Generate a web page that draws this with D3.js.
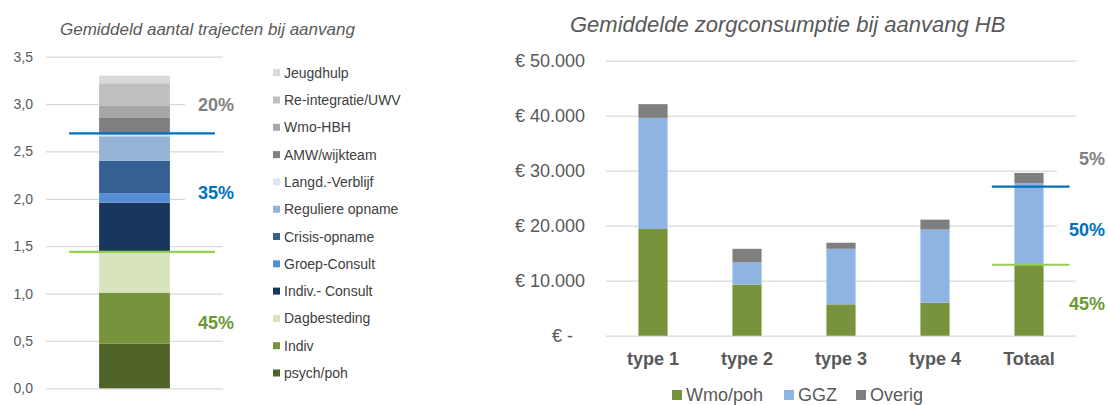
<!DOCTYPE html>
<html>
<head>
<meta charset="utf-8">
<script src="https://cdn.jsdelivr.net/npm/d3@7"></script>
<style>
  body { margin: 0; background: #fff; }
  text { font-family: "Liberation Sans", Arial, sans-serif; }
</style>
</head>
<body>
<div id="chart"></div>
<script>
// Left chart: average number of trajectories (stack bottom -> top)
const trajectCats = ["psych/poh", "Indiv", "Dagbesteding", "Indiv.- Consult", "Groep-Consult",
  "Crisis-opname", "Reguliere opname", "Langd.-Verblijf", "AMW/wijkteam", "Wmo-HBH",
  "Re-integratie/UWV", "Jeugdhulp"];
const trajectValues = [0.47, 0.54, 0.43, 0.52, 0.10, 0.34, 0.26, 0.02, 0.18, 0.12, 0.24, 0.08];
const trajectColors = ["#4f6228", "#77933c", "#d7e4bd", "#17375e", "#558ed5", "#376092",
  "#95b3d7", "#dce6f2", "#7f7f7f", "#a6a6a6", "#bfbfbf", "#d9d9d9"];
const leftTicks = [0, 0.5, 1, 1.5, 2, 2.5, 3, 3.5];
const leftSplits = [1.44, 2.69];            // green / blue divider
const leftShares = ["45%", "35%", "20%"];
const leftShareAt = [0.69, 2.07, 3.0];

// Right chart: average care consumption (euro)
const types = ["type 1", "type 2", "type 3", "type 4", "Totaal"];
const wmo = [19400, 9300, 5700, 6000, 12900];
const ggz = [20200, 4000, 10100, 13300, 14800];
const overig = [2500, 2500, 1100, 1800, 1900];
const seriesNames = ["Wmo/poh", "GGZ", "Overig"];
const seriesColors = ["#77933c", "#8eb4e3", "#7f7f7f"];
const rightTicks = [0, 10000, 20000, 30000, 40000, 50000];
const rightSplits = [12900, 27100];
const rightShares = ["45%", "50%", "5%"];
const rightShareAt = [5800, 19400, 32300];

const shareColors = ["#6a9a32", "#0070c0", "#808080"];
const lineColors = ["#92d050", "#0070c0"];

const W = 1108, H = 405;
const svg = d3.select("#chart").append("svg").attr("width", W).attr("height", H);

// ---------- left chart ----------
const gl = svg.append("g");
const yL = d3.scaleLinear().domain([0, 3.5]).range([388.3, 56.7]);
const xL = d3.scaleBand().domain(["aanvang"]).range([46, 223]).paddingInner(0.6).paddingOuter(0.3);

gl.append("text").attr("x", 60).attr("y", 35)
  .attr("font-size", 17).attr("font-style", "italic").attr("fill", "#595959")
  .text("Gemiddeld aantal trajecten bij aanvang");

const axL = gl.append("g").attr("transform", "translate(46,0)")
  .call(d3.axisLeft(yL).tickValues(leftTicks).tickSizeInner(-177).tickSizeOuter(0).tickPadding(13)
    .tickFormat(d => d3.format(".1f")(d).replace(".", ",")));
axL.select(".domain").remove();
axL.selectAll("line").attr("stroke", "#d9d9d9").attr("stroke-width", 1.3);
axL.selectAll("text").attr("font-size", 14).attr("fill", "#595959").attr("font-family", "Liberation Sans, Arial");

const rowL = { cat: "aanvang" };
trajectCats.forEach((c, i) => rowL[c] = trajectValues[i]);
const stackL = d3.stack().keys(trajectCats)([rowL]);

gl.append("g").selectAll("rect").data(stackL).join("rect")
  .attr("x", xL("aanvang"))
  .attr("width", xL.bandwidth())
  .attr("y", d => yL(d[0][1]))
  .attr("height", d => yL(d[0][0]) - yL(d[0][1]))
  .attr("fill", (d, i) => trajectColors[i]);

// white label boxes (cover gridlines like the original text boxes)
gl.append("g").selectAll("rect").data(leftShareAt).join("rect")
  .attr("x", 185).attr("width", 55)
  .attr("y", d => yL(d) - 18).attr("height", 34)
  .attr("fill", "#fff");

gl.append("g").selectAll("line").data(leftSplits).join("line")
  .attr("x1", xL("aanvang") - 30).attr("x2", xL("aanvang") + xL.bandwidth() + 45)
  .attr("y1", d => yL(d)).attr("y2", d => yL(d))
  .attr("stroke", (d, i) => lineColors[i]).attr("stroke-width", 2.2);

gl.append("g").selectAll("text").data(leftShares).join("text")
  .attr("x", 198).attr("y", (d, i) => yL(leftShareAt[i]) + 6.5)
  .attr("font-size", 18).attr("font-weight", "bold")
  .attr("fill", (d, i) => shareColors[i])
  .text(d => d);

// legend (top = last category)
const legL = gl.append("g").selectAll("g").data(trajectCats.slice().reverse()).join("g")
  .attr("transform", (d, i) => `translate(273,${72.7 + i * 27.3})`);
legL.append("rect").attr("x", 0).attr("y", -3.5).attr("width", 7).attr("height", 7)
  .attr("fill", d => trajectColors[trajectCats.indexOf(d)]);
legL.append("text").attr("x", 11).attr("y", 5).attr("font-size", 14).attr("fill", "#404040")
  .text(d => d);

// ---------- right chart ----------
const gr = svg.append("g");
const yR = d3.scaleLinear().domain([0, 50000]).range([335.7, 60.7]);
const xR = d3.scaleBand().domain(types).range([606, 1076]).paddingInner(0.69).paddingOuter(0.345);

gr.append("text").attr("x", 570).attr("y", 32)
  .attr("font-size", 22).attr("font-style", "italic").attr("fill", "#595959")
  .text("Gemiddelde zorgconsumptie bij aanvang HB");

const euro = d => d === 0 ? "€ -" : "€ " + d3.format(",")(d).replace(/,/g, ".");
const axR = gr.append("g").attr("transform", "translate(606,0)")
  .call(d3.axisLeft(yR).tickValues(rightTicks).tickSizeInner(-470).tickSizeOuter(0).tickPadding(21)
    .tickFormat(euro));
axR.select(".domain").remove();
axR.selectAll("line").attr("stroke", "#d9d9d9").attr("stroke-width", 1.3);
axR.selectAll("text").attr("font-size", 18).attr("fill", "#595959").attr("font-family", "Liberation Sans, Arial")
  .attr("dx", d => d === 0 ? -12 : 0);

const rowsR = types.map((t, i) => ({ type: t, "Wmo/poh": wmo[i], "GGZ": ggz[i], "Overig": overig[i] }));
const stackR = d3.stack().keys(seriesNames)(rowsR);

gr.append("g").selectAll("g").data(stackR).join("g")
  .attr("fill", (d, i) => seriesColors[i])
  .selectAll("rect").data(d => d).join("rect")
  .attr("x", d => xR(d.data.type))
  .attr("width", xR.bandwidth())
  .attr("y", d => yR(d[1]))
  .attr("height", d => yR(d[0]) - yR(d[1]));

gr.append("rect").attr("x", 1057).attr("width", 51)
  .attr("y", yR(rightShareAt[2]) - 10).attr("height", yR(rightShareAt[1]) - yR(rightShareAt[2]) + 30)
  .attr("fill", "#fff");

gr.append("g").selectAll("line").data(rightSplits).join("line")
  .attr("x1", xR("Totaal") - 22.6).attr("x2", xR("Totaal") + xR.bandwidth() + 26)
  .attr("y1", d => yR(d)).attr("y2", d => yR(d))
  .attr("stroke", (d, i) => lineColors[i]).attr("stroke-width", 2.2);

gr.append("g").selectAll("text").data(rightShares).join("text")
  .attr("x", 1105).attr("y", (d, i) => yR(rightShareAt[i]) + 6.5)
  .attr("text-anchor", "end")
  .attr("font-size", 18).attr("font-weight", "bold")
  .attr("fill", (d, i) => shareColors[i])
  .text(d => d);

gr.append("g").selectAll("text").data(types).join("text")
  .attr("x", d => xR(d) + xR.bandwidth() / 2).attr("y", 365)
  .attr("text-anchor", "middle").attr("font-size", 18).attr("font-weight", "bold")
  .attr("fill", "#595959")
  .text(d => d);

// bottom legend
const legX = [672, 784, 856];
const legR = gr.append("g").selectAll("g").data(seriesNames).join("g")
  .attr("transform", (d, i) => `translate(${legX[i]},395)`);
legR.append("rect").attr("x", 0).attr("y", -5).attr("width", 10).attr("height", 10)
  .attr("fill", (d, i) => seriesColors[i]);
legR.append("text").attr("x", 14).attr("y", 6).attr("font-size", 18).attr("fill", "#595959")
  .text(d => d);
</script>
</body>
</html>
